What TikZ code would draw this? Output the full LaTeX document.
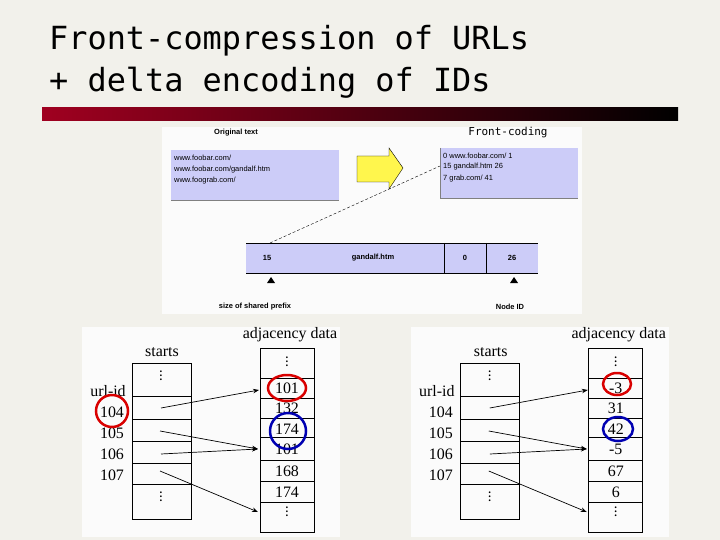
\documentclass[tikz,border=0pt]{standalone}
\usepackage{fontspec}
\setmainfont{Liberation Serif}
\newfontfamily\titlefont{DejaVu Sans Mono}
\newfontfamily\arialfont{Liberation Sans}
\usetikzlibrary{arrows.meta}
\definecolor{paper}{HTML}{F2F1EB}
\definecolor{boxblue}{HTML}{CCCCF8}
\definecolor{barred}{HTML}{A00020}
\newcommand{\vdts}{\raisebox{0pt}[5pt][5pt]{\bfseries\fontsize{11}{11}\selectfont$\vdots$}}
\tikzset{
  cell/.style={draw, line width=0.8pt},
  lbl/.style={font=\fontsize{16}{16}\selectfont, inner sep=0pt},
  small/.style={font=\arialfont\fontsize{7.5}{8}\selectfont, inner sep=0pt},
  smallb/.style={font=\arialfont\bfseries\fontsize{7.5}{8}\selectfont, inner sep=0pt},
  ptr/.style={-{Stealth[length=6pt]}, line width=0.7pt},
}
\begin{document}
\begin{tikzpicture}[x=1bp, y=-1bp]
\useasboundingbox (0,0) rectangle (720,540);
\fill[paper] (0,0) rectangle (720,540);
% title
\node[font=\titlefont\fontsize{32}{32}\selectfont, anchor=base west, inner sep=0pt] (t1) at (49,50) {Front-compression of URLs};
\node[font=\titlefont\fontsize{32}{32}\selectfont, anchor=base west, inner sep=0pt] (t2) at (49,92) {+ delta encoding of IDs};
\shade[left color=barred, right color=black] (42,108) rectangle (678,121);
% front-coding picture
\fill[white!97!gray] (162,127) rectangle (582,314);
\node[smallb] (orig) at (236,133) {Original text};
\node[font=\titlefont\fontsize{11}{11}\selectfont, inner sep=0pt] (fc) at (508,133) {Front-coding};
\fill[boxblue] (171,150) rectangle (339,200);
\draw[gray] (171,200) -- (339,200);
\node[small, anchor=west] (o1) at (174,158) {www.foobar.com/};
\node[small, anchor=west] (o2) at (174,170) {www.foobar.com/gandalf.htm};
\node[small, anchor=west] (o3) at (174,181) {www.foograb.com/};
\draw[fill=yellow!70] (357,156) -- (389,156) -- (389,148) -- (403,168) -- (389,189) -- (389,182) -- (357,182) -- cycle;
\fill[boxblue] (440,148) rectangle (578,198);
\draw[gray] (440,148) -- (440,198) -- (578,198);
\node[small, anchor=west] (c1) at (443,156) {0 www.foobar.com/ 1};
\node[small, anchor=west] (c2) at (443,167) {15 gandalf.htm 26};
\node[small, anchor=west] (c3) at (443,179) {7 grab.com/ 41};
\coordinate (dashA) at (270,243);
\coordinate (dashB) at (440,166);
\draw[densely dashed] (dashA) -- (dashB);
\fill[boxblue] (246,243) rectangle (538,273);
\draw (246,243) -- (538,243) (246,273) -- (538,273) (444,243) -- (444,273) (486,243) -- (486,273);
\node[smallb] (f1) at (267,258) {15};
\node[smallb] (f2) at (373,258) {gandalf.htm};
\node[smallb] (f3) at (465,258) {0};
\node[smallb] (f4) at (512,258) {26};
\fill (271,277) -- (267,283) -- (275,283) -- cycle;
\fill (514,277) -- (510,283) -- (518,283) -- cycle;
\node[smallb] (pre) at (255,307) {size of shared prefix};
\node[smallb] (nid) at (510,307) {Node ID};
% adjacency pictures
\foreach \dx/\pre/\a/\b/\c/\d/\e/\f in {0/L/101/132/174/101/168/174, 330/R/-3/31/42/-5/67/6} {
  \begin{scope}[xshift=\dx]
  \fill[white!97!gray] (82,327) rectangle (340,537);
  \node[lbl] (\pre st) at (162,352) {starts};
  \node[lbl] (\pre ad) at (290,335) {adjacency data};
  \draw[cell] (132,363) rectangle (191,519);
  \foreach \yy in {396,419,441,463,484} \draw[cell] (132,\yy) -- (191,\yy);
  \node[lbl] (\pre sd1) at (161,380) {\vdts};
  \node[lbl] (\pre sd2) at (161,501) {\vdts};
  \draw[cell] (260,348) rectangle (314,532);
  \foreach \yy in {378,398,418,437,460,481,502} \draw[cell] (260,\yy) -- (314,\yy);
  \node[lbl] (\pre ad0) at (287,366) {\vdts};
  \node[lbl] (\pre ad1) at (287,388) {\a};
  \node[lbl] (\pre ad2) at (287,408) {\b};
  \node[lbl] (\pre ad3) at (287,429) {\c};
  \node[lbl] (\pre ad4) at (287,449) {\d};
  \node[lbl] (\pre ad5) at (287,471) {\e};
  \node[lbl] (\pre ad6) at (287,492) {\f};
  \node[lbl] (\pre ad7) at (287,516) {\vdts};
  \node[lbl] (\pre uid) at (108,391) {url-id};
  \node[lbl] (\pre u4) at (112,412) {104};
  \node[lbl] (\pre u5) at (112,433) {105};
  \node[lbl] (\pre u6) at (112,454) {106};
  \node[lbl] (\pre u7) at (112,475) {107};
  \coordinate (\pre s4) at (161,408);
  \coordinate (\pre s5) at (160,431);
  \coordinate (\pre s6) at (161,454);
  \coordinate (\pre s7) at (160,471);
  \draw[ptr] (\pre s4) -- (259,390);
  \draw[ptr] (\pre s5) -- (258,449);
  \draw[ptr] (\pre s6) -- (258,449);
  \draw[ptr] (\pre s7) -- (258,512);
  \end{scope}
}
% highlight rings
\draw[red!85!black, line width=2.5pt] (112,411) circle (16);
\draw[red!85!black, line width=2.5pt] (287,388) ellipse (19 and 13);
\draw[blue!70!black, line width=2.5pt] (288,431) circle (18);
\draw[red!85!black, line width=2.5pt] (617,384) ellipse (14 and 11);
\draw[blue!70!black, line width=2.5pt] (618,429) ellipse (15 and 12);
\end{tikzpicture}
\end{document}
